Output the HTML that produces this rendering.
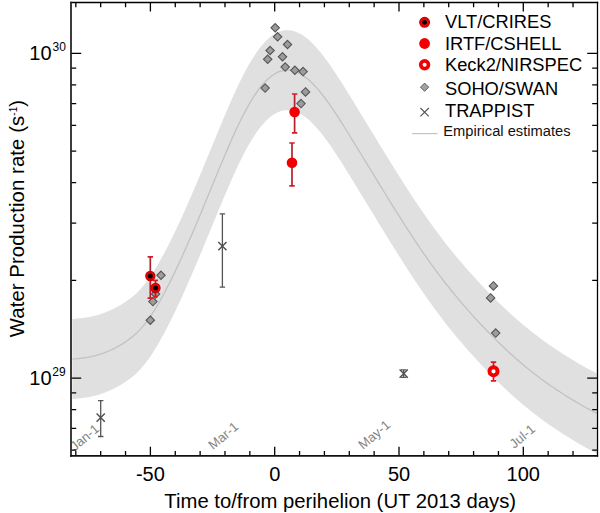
<!DOCTYPE html><html><head><meta charset="utf-8"><style>html,body{margin:0;padding:0;background:#fff;}svg{display:block;}text{font-family:"Liberation Sans",sans-serif;}</style></head><body>
<svg width="600" height="513" viewBox="0 0 600 513">
<rect x="0" y="0" width="600" height="513" fill="#fff"/>
<polygon points="72.40,319.05 75.03,318.85 77.67,318.60 80.30,318.33 82.94,318.00 85.57,317.62 88.21,317.18 90.84,316.67 93.47,316.09 96.11,315.42 98.74,314.66 101.38,313.82 104.01,312.88 106.64,311.86 109.28,310.75 111.91,309.55 114.55,308.25 117.18,306.87 119.82,305.40 122.45,303.83 125.08,302.15 127.72,300.34 130.35,298.38 132.99,296.25 135.62,293.93 138.25,291.39 140.89,288.63 143.52,285.61 146.16,282.32 148.79,278.76 151.43,274.93 154.06,270.87 156.69,266.57 159.33,262.06 161.96,257.36 164.60,252.47 167.23,247.42 169.86,242.22 172.50,236.90 175.13,231.44 177.77,225.87 180.40,220.19 183.04,214.41 185.67,208.53 188.30,202.56 190.94,196.51 193.57,190.39 196.21,184.20 198.84,177.95 201.47,171.65 204.11,165.32 206.74,158.96 209.38,152.58 212.01,146.19 214.65,139.81 217.28,133.44 219.91,127.10 222.55,120.80 225.18,114.55 227.82,108.38 230.45,102.31 233.08,96.37 235.72,90.58 238.35,84.95 240.99,79.52 243.62,74.31 246.26,69.33 248.89,64.61 251.52,60.15 254.16,55.96 256.79,52.06 259.43,48.46 262.06,45.15 264.69,42.16 267.33,39.50 269.96,37.16 272.60,35.17 275.23,33.52 277.87,32.20 280.50,31.21 283.13,30.55 285.77,30.20 288.40,30.18 291.04,30.46 293.67,31.06 296.30,31.95 298.94,33.14 301.57,34.62 304.21,36.36 306.84,38.36 309.48,40.60 312.11,43.08 314.74,45.77 317.38,48.68 320.01,51.77 322.65,55.05 325.28,58.50 327.91,62.10 330.55,65.83 333.18,69.69 335.82,73.65 338.45,77.70 341.09,81.83 343.72,86.02 346.35,90.26 348.99,94.53 351.62,98.81 354.26,103.10 356.89,107.40 359.52,111.70 362.16,116.01 364.79,120.32 367.43,124.64 370.06,128.95 372.70,133.27 375.33,137.58 377.96,141.89 380.60,146.19 383.23,150.49 385.87,154.77 388.50,159.05 391.13,163.31 393.77,167.55 396.40,171.77 399.04,175.96 401.67,180.12 404.31,184.26 406.94,188.35 409.57,192.41 412.21,196.44 414.84,200.41 417.48,204.35 420.11,208.24 422.74,212.08 425.38,215.88 428.01,219.62 430.65,223.32 433.28,226.97 435.92,230.56 438.55,234.10 441.18,237.58 443.82,241.01 446.45,244.38 449.09,247.71 451.72,250.98 454.35,254.20 456.99,257.38 459.62,260.52 462.26,263.61 464.89,266.66 467.53,269.67 470.16,272.65 472.79,275.58 475.43,278.49 478.06,281.35 480.70,284.19 483.33,286.98 485.96,289.74 488.60,292.46 491.23,295.15 493.87,297.80 496.50,300.41 499.14,302.99 501.77,305.52 504.40,308.03 507.04,310.49 509.67,312.92 512.31,315.30 514.94,317.65 517.57,319.97 520.21,322.24 522.84,324.48 525.48,326.67 528.11,328.83 530.75,330.96 533.38,333.04 536.01,335.08 538.65,337.09 541.28,339.05 543.92,340.98 546.55,342.87 549.18,344.72 551.82,346.54 554.45,348.33 557.09,350.09 559.72,351.82 562.36,353.52 564.99,355.20 567.62,356.85 570.26,358.48 572.89,360.09 575.53,361.68 578.16,363.23 580.79,364.76 583.43,366.25 586.06,367.71 588.70,369.13 591.33,370.51 593.97,371.85 596.60,373.14 596.60,453.14 593.97,451.85 591.33,450.51 588.70,449.13 586.06,447.71 583.43,446.25 580.79,444.76 578.16,443.23 575.53,441.68 572.89,440.09 570.26,438.48 567.62,436.85 564.99,435.20 562.36,433.52 559.72,431.82 557.09,430.09 554.45,428.33 551.82,426.54 549.18,424.72 546.55,422.87 543.92,420.98 541.28,419.05 538.65,417.09 536.01,415.08 533.38,413.04 530.75,410.96 528.11,408.83 525.48,406.67 522.84,404.48 520.21,402.24 517.57,399.97 514.94,397.65 512.31,395.30 509.67,392.92 507.04,390.49 504.40,388.03 501.77,385.52 499.14,382.99 496.50,380.41 493.87,377.80 491.23,375.15 488.60,372.46 485.96,369.74 483.33,366.98 480.70,364.19 478.06,361.35 475.43,358.49 472.79,355.58 470.16,352.65 467.53,349.67 464.89,346.66 462.26,343.61 459.62,340.52 456.99,337.38 454.35,334.20 451.72,330.98 449.09,327.71 446.45,324.38 443.82,321.01 441.18,317.58 438.55,314.10 435.92,310.56 433.28,306.97 430.65,303.32 428.01,299.62 425.38,295.88 422.74,292.08 420.11,288.24 417.48,284.35 414.84,280.41 412.21,276.44 409.57,272.41 406.94,268.35 404.31,264.26 401.67,260.12 399.04,255.96 396.40,251.77 393.77,247.55 391.13,243.31 388.50,239.05 385.87,234.77 383.23,230.49 380.60,226.19 377.96,221.89 375.33,217.58 372.70,213.27 370.06,208.95 367.43,204.64 364.79,200.32 362.16,196.01 359.52,191.70 356.89,187.40 354.26,183.10 351.62,178.81 348.99,174.53 346.35,170.26 343.72,166.02 341.09,161.83 338.45,157.70 335.82,153.65 333.18,149.69 330.55,145.83 327.91,142.10 325.28,138.50 322.65,135.05 320.01,131.77 317.38,128.68 314.74,125.77 312.11,123.08 309.48,120.60 306.84,118.36 304.21,116.36 301.57,114.62 298.94,113.14 296.30,111.95 293.67,111.06 291.04,110.46 288.40,110.18 285.77,110.20 283.13,110.55 280.50,111.21 277.87,112.20 275.23,113.52 272.60,115.17 269.96,117.16 267.33,119.50 264.69,122.16 262.06,125.15 259.43,128.46 256.79,132.06 254.16,135.96 251.52,140.15 248.89,144.61 246.26,149.33 243.62,154.31 240.99,159.52 238.35,164.95 235.72,170.58 233.08,176.37 230.45,182.31 227.82,188.38 225.18,194.55 222.55,200.80 219.91,207.10 217.28,213.44 214.65,219.81 212.01,226.19 209.38,232.58 206.74,238.96 204.11,245.32 201.47,251.65 198.84,257.95 196.21,264.20 193.57,270.39 190.94,276.51 188.30,282.56 185.67,288.53 183.04,294.41 180.40,300.19 177.77,305.87 175.13,311.44 172.50,316.90 169.86,322.22 167.23,327.42 164.60,332.47 161.96,337.36 159.33,342.06 156.69,346.57 154.06,350.87 151.43,354.93 148.79,358.76 146.16,362.32 143.52,365.61 140.89,368.63 138.25,371.39 135.62,373.93 132.99,376.25 130.35,378.38 127.72,380.34 125.08,382.15 122.45,383.83 119.82,385.40 117.18,386.87 114.55,388.25 111.91,389.55 109.28,390.75 106.64,391.86 104.01,392.88 101.38,393.82 98.74,394.66 96.11,395.42 93.47,396.09 90.84,396.67 88.21,397.18 85.57,397.62 82.94,398.00 80.30,398.33 77.67,398.60 75.03,398.85 72.40,399.05" fill="#e0e0e0"/>
<polyline points="72.40,359.05 75.03,358.85 77.67,358.60 80.30,358.33 82.94,358.00 85.57,357.62 88.21,357.18 90.84,356.67 93.47,356.09 96.11,355.42 98.74,354.66 101.38,353.82 104.01,352.88 106.64,351.86 109.28,350.75 111.91,349.55 114.55,348.25 117.18,346.87 119.82,345.40 122.45,343.83 125.08,342.15 127.72,340.34 130.35,338.38 132.99,336.25 135.62,333.93 138.25,331.39 140.89,328.63 143.52,325.61 146.16,322.32 148.79,318.76 151.43,314.93 154.06,310.87 156.69,306.57 159.33,302.06 161.96,297.36 164.60,292.47 167.23,287.42 169.86,282.22 172.50,276.90 175.13,271.44 177.77,265.87 180.40,260.19 183.04,254.41 185.67,248.53 188.30,242.56 190.94,236.51 193.57,230.39 196.21,224.20 198.84,217.95 201.47,211.65 204.11,205.32 206.74,198.96 209.38,192.58 212.01,186.19 214.65,179.81 217.28,173.44 219.91,167.10 222.55,160.80 225.18,154.55 227.82,148.38 230.45,142.31 233.08,136.37 235.72,130.58 238.35,124.95 240.99,119.52 243.62,114.31 246.26,109.33 248.89,104.61 251.52,100.15 254.16,95.96 256.79,92.06 259.43,88.46 262.06,85.15 264.69,82.16 267.33,79.50 269.96,77.16 272.60,75.17 275.23,73.52 277.87,72.20 280.50,71.21 283.13,70.55 285.77,70.20 288.40,70.18 291.04,70.46 293.67,71.06 296.30,71.95 298.94,73.14 301.57,74.62 304.21,76.36 306.84,78.36 309.48,80.60 312.11,83.08 314.74,85.77 317.38,88.68 320.01,91.77 322.65,95.05 325.28,98.50 327.91,102.10 330.55,105.83 333.18,109.69 335.82,113.65 338.45,117.70 341.09,121.83 343.72,126.02 346.35,130.26 348.99,134.53 351.62,138.81 354.26,143.10 356.89,147.40 359.52,151.70 362.16,156.01 364.79,160.32 367.43,164.64 370.06,168.95 372.70,173.27 375.33,177.58 377.96,181.89 380.60,186.19 383.23,190.49 385.87,194.77 388.50,199.05 391.13,203.31 393.77,207.55 396.40,211.77 399.04,215.96 401.67,220.12 404.31,224.26 406.94,228.35 409.57,232.41 412.21,236.44 414.84,240.41 417.48,244.35 420.11,248.24 422.74,252.08 425.38,255.88 428.01,259.62 430.65,263.32 433.28,266.97 435.92,270.56 438.55,274.10 441.18,277.58 443.82,281.01 446.45,284.38 449.09,287.71 451.72,290.98 454.35,294.20 456.99,297.38 459.62,300.52 462.26,303.61 464.89,306.66 467.53,309.67 470.16,312.65 472.79,315.58 475.43,318.49 478.06,321.35 480.70,324.19 483.33,326.98 485.96,329.74 488.60,332.46 491.23,335.15 493.87,337.80 496.50,340.41 499.14,342.99 501.77,345.52 504.40,348.03 507.04,350.49 509.67,352.92 512.31,355.30 514.94,357.65 517.57,359.97 520.21,362.24 522.84,364.48 525.48,366.67 528.11,368.83 530.75,370.96 533.38,373.04 536.01,375.08 538.65,377.09 541.28,379.05 543.92,380.98 546.55,382.87 549.18,384.72 551.82,386.54 554.45,388.33 557.09,390.09 559.72,391.82 562.36,393.52 564.99,395.20 567.62,396.85 570.26,398.48 572.89,400.09 575.53,401.68 578.16,403.23 580.79,404.76 583.43,406.25 586.06,407.71 588.70,409.13 591.33,410.51 593.97,411.85 596.60,413.14" fill="none" stroke="#c2c2c2" stroke-width="1.3"/>
<text x="100.1" y="430.4" font-size="13.2" fill="#858585" text-anchor="end" transform="rotate(-40 100.1 430.4)">Jan-1</text>
<text x="239.4" y="428.1" font-size="13.2" fill="#858585" text-anchor="end" transform="rotate(-40 239.4 428.1)">Mar-1</text>
<text x="391.1" y="426.4" font-size="13.2" fill="#858585" text-anchor="end" transform="rotate(-40 391.1 426.4)">May-1</text>
<text x="536.2" y="430.6" font-size="13.2" fill="#858585" text-anchor="end" transform="rotate(-40 536.2 430.6)">Jul-1</text>
<path d="M75.82,455.85V451.05M75.82,2.5V7.30M100.68,455.85V451.05M100.68,2.5V7.30M125.54,455.85V451.05M125.54,2.5V7.30M150.40,455.85V446.85M150.40,2.5V11.50M175.26,455.85V451.05M175.26,2.5V7.30M200.12,455.85V451.05M200.12,2.5V7.30M224.98,455.85V451.05M224.98,2.5V7.30M249.84,455.85V451.05M249.84,2.5V7.30M274.70,455.85V446.85M274.70,2.5V11.50M299.56,455.85V451.05M299.56,2.5V7.30M324.42,455.85V451.05M324.42,2.5V7.30M349.28,455.85V451.05M349.28,2.5V7.30M374.14,455.85V451.05M374.14,2.5V7.30M399.00,455.85V446.85M399.00,2.5V11.50M423.86,455.85V451.05M423.86,2.5V7.30M448.72,455.85V451.05M448.72,2.5V7.30M473.58,455.85V451.05M473.58,2.5V7.30M498.44,455.85V451.05M498.44,2.5V7.30M523.30,455.85V446.85M523.30,2.5V11.50M548.16,455.85V451.05M548.16,2.5V7.30M573.02,455.85V451.05M573.02,2.5V7.30M70.9,378.10H81.20M597.5,378.10H587.20M70.9,280.33H76.20M597.5,280.33H592.20M70.9,223.13H76.20M597.5,223.13H592.20M70.9,182.55H76.20M597.5,182.55H592.20M70.9,151.07H76.20M597.5,151.07H592.20M70.9,125.36H76.20M597.5,125.36H592.20M70.9,103.61H76.20M597.5,103.61H592.20M70.9,84.78H76.20M597.5,84.78H592.20M70.9,68.16H76.20M597.5,68.16H592.20M70.9,53.30H81.20M597.5,53.30H587.20M70.9,450.16H76.20M597.5,450.16H592.20M70.9,428.41H76.20M597.5,428.41H592.20M70.9,409.58H76.20M597.5,409.58H592.20M70.9,392.96H76.20M597.5,392.96H592.20" fill="none" stroke="#000" stroke-width="1.3"/>
<path d="M70.2,2.5H598.15" stroke="#000" stroke-width="1.3"/>
<path d="M597.5,1.85V456.7" stroke="#000" stroke-width="1.3"/>
<path d="M71.0,1.85V456.7" stroke="#262626" stroke-width="1.8"/>
<path d="M70.1,455.85H598.15" stroke="#111" stroke-width="1.7"/>
<path d="M275.2,23.6L279.4,27.8L275.2,32.0L271.0,27.8Z" fill="#9c9c9c" stroke="#555" stroke-width="1.1"/>
<path d="M277.6,32.599999999999994L281.8,36.8L277.6,41.0L273.40000000000003,36.8Z" fill="#9c9c9c" stroke="#555" stroke-width="1.1"/>
<path d="M287.5,40.3L291.7,44.5L287.5,48.7L283.3,44.5Z" fill="#9c9c9c" stroke="#555" stroke-width="1.1"/>
<path d="M270.1,46.3L274.3,50.5L270.1,54.7L265.90000000000003,50.5Z" fill="#9c9c9c" stroke="#555" stroke-width="1.1"/>
<path d="M267.7,55.099999999999994L271.9,59.3L267.7,63.5L263.5,59.3Z" fill="#9c9c9c" stroke="#555" stroke-width="1.1"/>
<path d="M282.5,52.599999999999994L286.7,56.8L282.5,61.0L278.3,56.8Z" fill="#9c9c9c" stroke="#555" stroke-width="1.1"/>
<path d="M285.2,62.89999999999999L289.4,67.1L285.2,71.3L281.0,67.1Z" fill="#9c9c9c" stroke="#555" stroke-width="1.1"/>
<path d="M294.9,66.1L299.09999999999997,70.3L294.9,74.5L290.7,70.3Z" fill="#9c9c9c" stroke="#555" stroke-width="1.1"/>
<path d="M303.1,67.39999999999999L307.3,71.6L303.1,75.8L298.90000000000003,71.6Z" fill="#9c9c9c" stroke="#555" stroke-width="1.1"/>
<path d="M265.1,83.89999999999999L269.3,88.1L265.1,92.3L260.90000000000003,88.1Z" fill="#9c9c9c" stroke="#555" stroke-width="1.1"/>
<path d="M305.5,87.7L309.7,91.9L305.5,96.10000000000001L301.3,91.9Z" fill="#9c9c9c" stroke="#555" stroke-width="1.1"/>
<path d="M301.0,99.39999999999999L305.2,103.6L301.0,107.8L296.8,103.6Z" fill="#9c9c9c" stroke="#555" stroke-width="1.1"/>
<path d="M161.0,271.1L165.2,275.3L161.0,279.5L156.8,275.3Z" fill="#9c9c9c" stroke="#555" stroke-width="1.1"/>
<path d="M155.6,289.8L159.79999999999998,294.0L155.6,298.2L151.4,294.0Z" fill="#9c9c9c" stroke="#555" stroke-width="1.1"/>
<path d="M152.9,297.40000000000003L157.1,301.6L152.9,305.8L148.70000000000002,301.6Z" fill="#9c9c9c" stroke="#555" stroke-width="1.1"/>
<path d="M150.3,316.0L154.5,320.2L150.3,324.4L146.10000000000002,320.2Z" fill="#9c9c9c" stroke="#555" stroke-width="1.1"/>
<path d="M493.4,281.7L497.59999999999997,285.9L493.4,290.09999999999997L489.2,285.9Z" fill="#9c9c9c" stroke="#555" stroke-width="1.1"/>
<path d="M490.6,293.7L494.8,297.9L490.6,302.09999999999997L486.40000000000003,297.9Z" fill="#9c9c9c" stroke="#555" stroke-width="1.1"/>
<path d="M495.7,328.90000000000003L499.9,333.1L495.7,337.3L491.5,333.1Z" fill="#9c9c9c" stroke="#555" stroke-width="1.1"/>
<path d="M100.7,400.7V436.5M98.0,400.7H103.4M98.0,436.5H103.4" stroke="#555" stroke-width="1.3" fill="none"/>
<path d="M96.60000000000001,413.5L104.8,421.70000000000005M96.60000000000001,421.70000000000005L104.8,413.5" stroke="#505050" stroke-width="1.45" fill="none"/>
<path d="M222.4,213.8V287.1M219.70000000000002,213.8H225.1M219.70000000000002,287.1H225.1" stroke="#555" stroke-width="1.3" fill="none"/>
<path d="M218.3,242.1L226.5,250.29999999999998M218.3,250.29999999999998L226.5,242.1" stroke="#505050" stroke-width="1.45" fill="none"/>
<path d="M403.7,369.8V377.3M401.0,369.8H406.4M401.0,377.3H406.4" stroke="#555" stroke-width="1.3" fill="none"/>
<path d="M399.59999999999997,369.5L407.8,377.70000000000005M399.59999999999997,377.70000000000005L407.8,369.5" stroke="#505050" stroke-width="1.45" fill="none"/>
<path d="M150.3,256.8V298.2" stroke="#b3202e" stroke-width="1.7" fill="none"/><path d="M147.60000000000002,256.8H153.0M147.60000000000002,298.2H153.0" stroke="#d91c24" stroke-width="1.7" fill="none"/>
<path d="M155.5,280.4V296.5" stroke="#b3202e" stroke-width="1.7" fill="none"/><path d="M153.0,280.4H158.0M153.0,296.5H158.0" stroke="#d91c24" stroke-width="1.7" fill="none"/>
<circle cx="150.3" cy="276.0" r="4.5" fill="#f00000" stroke="#d00000" stroke-width="1.3"/><circle cx="150.3" cy="276.0" r="2.5" fill="#000"/>
<circle cx="155.5" cy="288.0" r="4.5" fill="#f00000" stroke="#d00000" stroke-width="1.3"/><circle cx="155.5" cy="288.0" r="2.5" fill="#000"/>
<path d="M294.6,94.0V132.8" stroke="#b3202e" stroke-width="1.7" fill="none"/><path d="M291.90000000000003,94.0H297.3M291.90000000000003,132.8H297.3" stroke="#d91c24" stroke-width="1.7" fill="none"/>
<path d="M292.0,143.0V185.9" stroke="#b3202e" stroke-width="1.7" fill="none"/><path d="M289.3,143.0H294.7M289.3,185.9H294.7" stroke="#d91c24" stroke-width="1.7" fill="none"/>
<circle cx="294.6" cy="112.0" r="5.3" fill="#f00000"/>
<circle cx="292.0" cy="162.8" r="5.3" fill="#f00000"/>
<path d="M493.5,362.1V380.8" stroke="#b3202e" stroke-width="1.7" fill="none"/><path d="M490.8,362.1H496.2M490.8,380.8H496.2" stroke="#d91c24" stroke-width="1.7" fill="none"/>
<circle cx="493.5" cy="371.3" r="4.05" fill="#fff" stroke="#f00000" stroke-width="3.9"/>
<circle cx="424.6" cy="22.3" r="4.8" fill="#f00000" stroke="#d00000" stroke-width="1.4"/><circle cx="424.6" cy="22.3" r="2.4" fill="#000"/>
<circle cx="424.6" cy="43.5" r="5.4" fill="#f00000"/>
<circle cx="424.6" cy="64.7" r="3.85" fill="#fff" stroke="#f00000" stroke-width="3.7"/>
<path d="M424.6,83.10000000000001L428.70000000000005,87.2L424.6,91.3L420.5,87.2Z" fill="#a2a2a2" stroke="#5c5c5c" stroke-width="1.0"/>
<path d="M420.40000000000003,108.0L428.8,116.4M420.40000000000003,116.4L428.8,108.0" stroke="#555" stroke-width="1.1" fill="none"/>
<path d="M412,133.6H437.5" stroke="#c4c4c4" stroke-width="1.2"/>
<text x="445" y="28.3" font-size="18.3" fill="#000">VLT/CRIRES</text>
<text x="445" y="49.6" font-size="18.3" fill="#000">IRTF/CSHELL</text>
<text x="445" y="71.1" font-size="18.3" fill="#000">Keck2/NIRSPEC</text>
<text x="445" y="94.6" font-size="18.3" fill="#000">SOHO/SWAN</text>
<text x="445" y="117.1" font-size="18.3" fill="#000">TRAPPIST</text>
<text x="443.2" y="136.4" font-size="14.7" fill="#111">Empirical estimates</text>
<text x="150.40" y="480.9" font-size="20.0" text-anchor="middle" fill="#000">-50</text>
<text x="274.70" y="480.9" font-size="20.0" text-anchor="middle" fill="#000">0</text>
<text x="399.00" y="480.9" font-size="20.0" text-anchor="middle" fill="#000">50</text>
<text x="523.30" y="480.9" font-size="20.0" text-anchor="middle" fill="#000">100</text>
<text x="51.6" y="60.2" font-size="20.0" text-anchor="end" fill="#000">10</text><text x="52.5" y="51.0" font-size="12" fill="#000">30</text>
<text x="51.6" y="385" font-size="20.0" text-anchor="end" fill="#000">10</text><text x="52.3" y="376.1" font-size="12" fill="#000">29</text>
<text x="340.2" y="508" font-size="20.3" text-anchor="middle" fill="#000">Time to/from perihelion (UT 2013 days)</text>
<text transform="translate(24.2,218.5) rotate(-90)" font-size="20.3" letter-spacing="0.1" text-anchor="middle" fill="#000">Water Production rate (s<tspan font-size="10" dy="-7">-1</tspan><tspan dy="7">)</tspan></text>
</svg></body></html>
